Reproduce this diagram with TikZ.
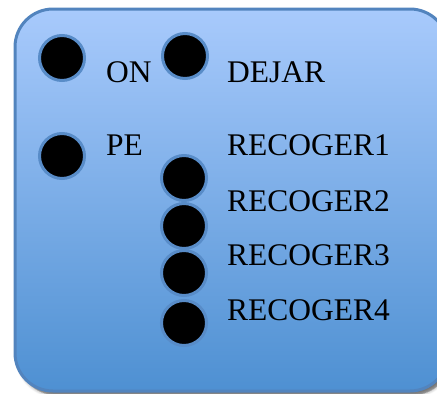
\documentclass[tikz,border=0pt]{standalone}
\usepackage{fontspec}
\setmainfont{Liberation Serif}
\usetikzlibrary{shadows.blur}
\definecolor{panelTop}{RGB}{168,202,252}
\definecolor{panelBottom}{RGB}{78,144,210}
\definecolor{panelEdge}{RGB}{82,132,190}
\definecolor{dotEdge}{RGB}{88,140,200}
\tikzset{
  dot/.style={circle, fill=black, draw=dotEdge, line width=3pt, minimum size=45pt, inner sep=0pt},
  lbl/.style={anchor=base west, inner sep=0pt, font=\fontsize{31.5}{36}\selectfont},
}
\begin{document}
\begin{tikzpicture}[x=1pt,y=-1pt]
\useasboundingbox (0,0) rectangle (437,394);
\begin{scope}
\clip (0,0) rectangle (437,394);
% soft drop shadow under the panel
\fill[black, opacity=0.25, rounded corners=38pt, blur shadow={shadow xshift=0pt, shadow yshift=0pt, shadow blur steps=6, shadow blur radius=3pt}]
  (18,12) rectangle (451,395);
% panel with vertical gradient
\draw[panelEdge, line width=3pt, rounded corners=38pt, top color=panelTop, bottom color=panelBottom]
  (15,9) rectangle (448,391);
\end{scope}
% markers
\node[dot] (on)  at (62,58)  {};
\node[dot] (dej) at (185,56) {};
\node[dot] (pe)  at (62,156) {};
\node[dot] (r4)  at (184,323) {};
\node[dot] (r3)  at (184,273) {};
\node[dot] (r2)  at (184,226) {};
\node[dot] (r1)  at (184,178) {};
% labels
\node[lbl] (tOn)  at (106,82)  {ON};
\node[lbl] (tDej) at (227,82)  {DEJAR};
\node[lbl] (tPe)  at (106,155) {PE};
\node[lbl] (tR1)  at (227,155) {RECOGER1};
\node[lbl] (tR2)  at (227,211) {RECOGER2};
\node[lbl] (tR3)  at (227,265) {RECOGER3};
\node[lbl] (tR4)  at (227,320) {RECOGER4};
\end{tikzpicture}
\end{document}
